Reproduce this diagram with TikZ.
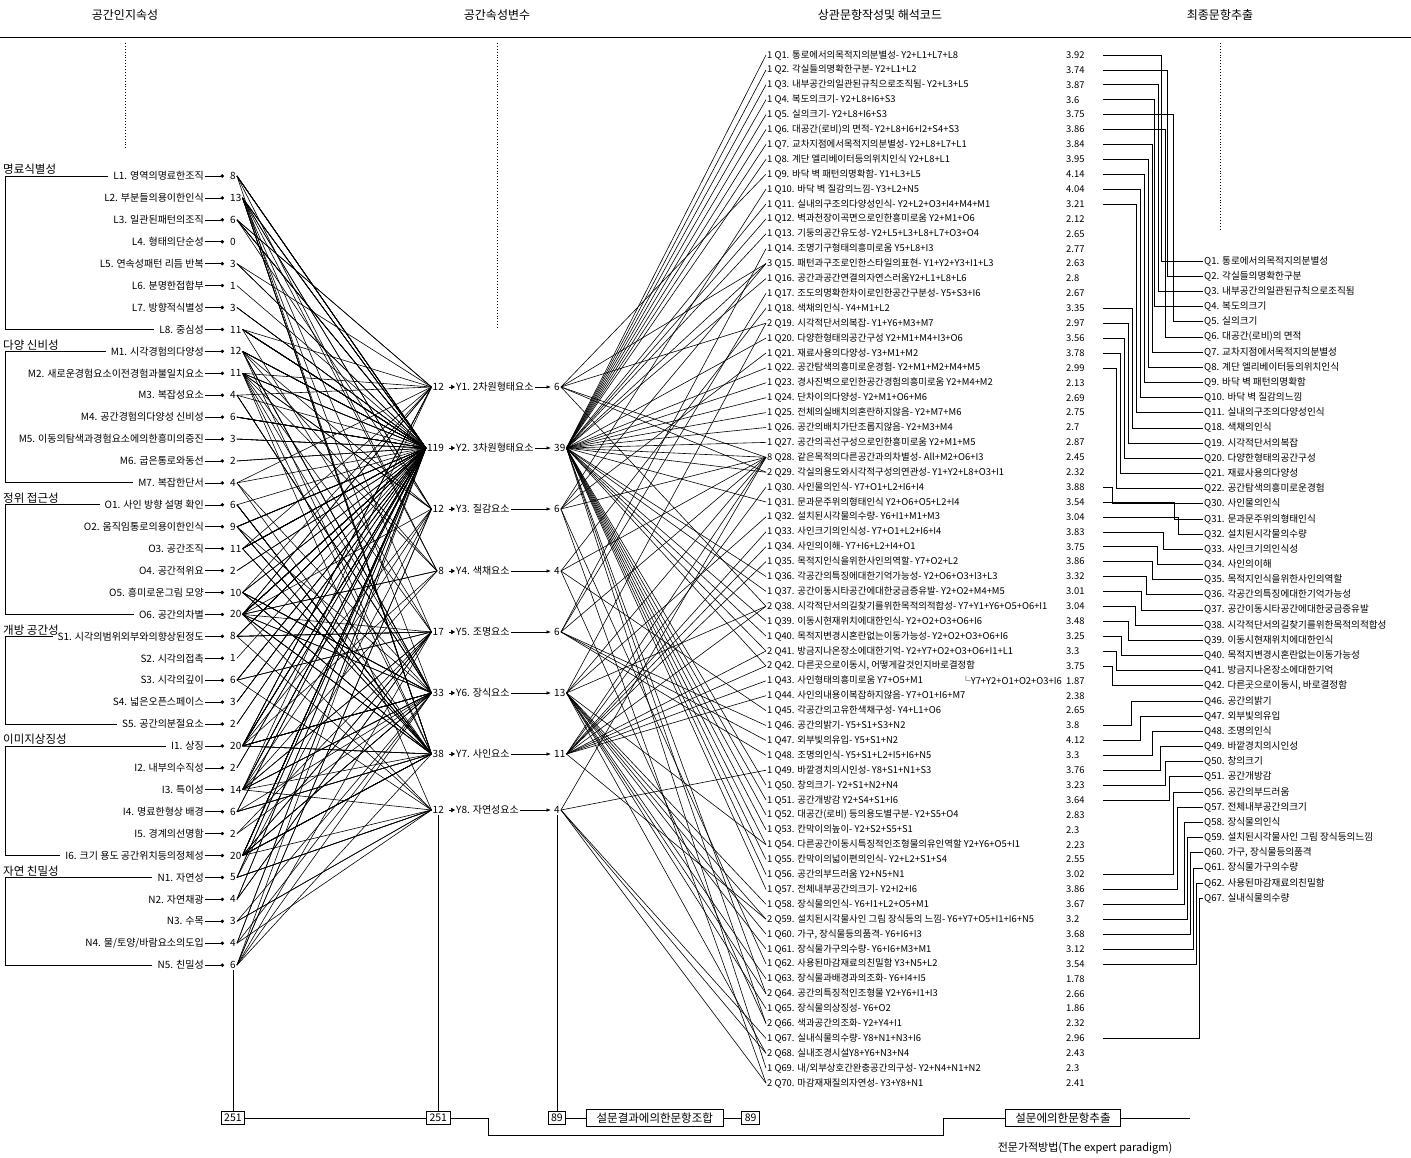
\documentclass[tikz,border=0pt]{standalone}
\usepackage{fontspec}
\setmainfont{Noto Sans CJK KR}
\usetikzlibrary{positioning,arrows.meta,calc}

\begin{document}
\begin{tikzpicture}[x=1pt,y=-1pt]
\tikzset{hd/.style={font=\fontsize{12}{14}\selectfont},
  grp/.style={font=\fontsize{11.5}{13}\selectfont,anchor=south west,inner sep=1pt},
  attr/.style={font=\fontsize{10}{11}\selectfont,anchor=east,inner sep=1pt},
  cnt/.style={font=\fontsize{10}{11}\selectfont,inner sep=1pt},
  qrow/.style={font=\fontsize{9.4}{10}\selectfont,anchor=west,inner sep=1pt},
  val/.style={font=\fontsize{9.4}{10}\selectfont,anchor=west,inner sep=0pt,text width=34pt},
  fin/.style={font=\fontsize{9.6}{10}\selectfont,anchor=west,inner sep=1pt},
  link/.style={line width=0.6pt},
  bx/.style={draw,line width=0.8pt,inner sep=3pt,font=\fontsize{10.5}{12}\selectfont}}
\useasboundingbox (0,0) rectangle (1411,1158);

%% headers
\node[hd] (h1) at (125,15) {공간인지속성};
\node[hd] (h2) at (497,15) {공간속성변수};
\node[hd] (h3) at (880,15) {상관문항작성및 해석코드};
\node[hd] (h4) at (1220,15) {최종문항추출};
\draw[line width=0.8pt] (0,37) -- (1411,37);
\draw[dotted,line width=0.9pt] (125,43) -- (125,150);
\draw[dotted,line width=0.9pt] (497,43) -- (497,330);
\draw[dotted,line width=0.9pt] (1220,43) -- (1220,230);

%% left: attributes
\foreach \c/\t/\n [count=\i from 0] in {L1/{L1. 영역의명료한조직}/8, L2/{L2. 부분들의용이한인식}/13,
  L3/{L3. 일관된패턴의조직}/6, L4/{L4. 형태의단순성}/0, L5/{L5. 연속성패턴 리듬 반복}/3,
  L6/{L6. 분명한접합부}/1, L7/{L7. 방향적식별성}/3, L8/{L8. 중심성}/11,
  M1/{M1. 시각경험의다양성}/12, M2/{M2. 새로운경험요소이전경험과불일치요소}/11,
  M3/{M3. 복잡성요소}/4, M4/{M4. 공간경험의다양성 신비성}/6,
  M5/{M5. 이동의탐색과경험요소에의한흥미의증진}/3, M6/{M6. 굽은통로와동선}/2,
  M7/{M7. 복잡한단서}/4, O1/{O1. 사인 방향 설명 확인}/6, O2/{O2. 움직임통로의용이한인식}/9,
  O3/{O3. 공간조직}/11, O4/{O4. 공간적위요}/2, O5/{O5. 흥미로운그림 모양}/10,
  O6/{O6. 공간의차별}/20, S1/{S1. 시각의범위외부와의향상된정도}/8, S2/{S2. 시각의접촉}/1,
  S3/{S3. 시각의깊이}/6, S4/{S4. 넓은오픈스페이스}/3, S5/{S5. 공간의분절요소}/2,
  I1/{I1. 상징}/20, I2/{I2. 내부의수직성}/2, I3/{I3. 특이성}/14, I4/{I4. 명료한형상 배경}/6,
  I5/{I5. 경계의선명함}/2, I6/{I6. 크기 용도 공간위치등의정체성}/20, N1/{N1. 자연성}/5,
  N2/{N2. 자연채광}/4, N3/{N3. 수목}/3, N4/{N4. 물/토양/바람요소의도입}/4, N5/{N5. 친밀성}/6}
{
  \node[attr] (t\c) at (205,{176+\i*21.92}) {\t};
  \node[cnt,anchor=west] (n\c) at (229,{176+\i*21.92}) {\n};
  \draw[link,-{Circle[length=3.4pt]},shorten >=5pt] (t\c.east) -- (n\c.west);
}
\foreach \g/\a/\b in {명료식별성/L1/L8, {다양 신비성}/M1/M7, {정위 접근성}/O1/O6,
  {개방 공간성}/S1/S5, 이미지상징성/I1/I6, {자연 친밀성}/N1/N5}
{
  \node[grp] (g\a) at (t\a.west -| 2,0) {\g};
  \draw[line width=0.8pt] ([xshift=-4pt]t\a.west) -- (t\a.west -| 5,0) -- (t\b.west -| 5,0) -- ([xshift=-4pt]t\b.west);
}

%% middle: variables
\foreach \i/\t/\l/\r [count=\j from 0] in {1/{Y1. 2차원형태요소}/12/6, 2/{Y2. 3차원형태요소}/119/39,
  3/{Y3. 질감요소}/12/6, 4/{Y4. 색채요소}/8/4, 5/{Y5. 조명요소}/17/6, 6/{Y6. 장식요소}/33/13,
  7/{Y7. 사인요소}/38/11, 8/{Y8. 자연성요소}/12/4}
{
  \pgfmathsetmacro\yy{{387,448,509,571,632,693,754,810}[\j]}
  \node[cnt,anchor=east] (yl\i) at (445,\yy) {\l};
  \node[cnt,anchor=west] (y\i) at (455,\yy) {\t};
  \node[cnt,anchor=west] (yr\i) at (553,\yy) {\r};
  \draw[link,-{Triangle[length=4pt,width=4.5pt]},shorten <=4pt] (yl\i.east) -- (y\i.west);
  \draw[link,-{Latex[length=4.5pt]},shorten >=2pt] (y\i.east) -- (yr\i.west);
}

%% right: items and scores
\foreach \k/\t/\v in {1/{1 Q1. 통로에서의목적지의분별성- Y2+L1+L7+L8}/3.92,
  2/{1 Q2. 각실들의명확한구분- Y2+L1+L2}/3.74,
  3/{1 Q3. 내부공간의일관된규칙으로조직됨- Y2+L3+L5}/3.87,
  4/{1 Q4. 복도의크기- Y2+L8+I6+S3}/3.6,
  5/{1 Q5. 실의크기- Y2+L8+I6+S3}/3.75,
  6/{1 Q6. 대공간(로비)의 면적- Y2+L8+I6+I2+S4+S3}/3.86,
  7/{1 Q7. 교차지점에서목적지의분별성- Y2+L8+L7+L1}/3.84,
  8/{1 Q8. 계단 엘리베이터등의위치인식 Y2+L8+L1}/3.95,
  9/{1 Q9. 바닥 벽 패턴의명확함- Y1+L3+L5}/4.14,
  10/{1 Q10. 바닥 벽 질감의느낌- Y3+L2+N5}/4.04,
  11/{1 Q11. 실내의구조의다양성인식- Y2+L2+O3+I4+M4+M1}/3.21,
  12/{1 Q12. 벽과천장이곡면으로인한흥미로움 Y2+M1+O6}/2.12,
  13/{1 Q13. 기둥의공간유도성- Y2+L5+L3+L8+L7+O3+O4}/2.65,
  14/{1 Q14. 조명기구형태의흥미로움 Y5+L8+I3}/2.77,
  15/{3 Q15. 패턴과구조로인한스타일의표현- Y1+Y2+Y3+I1+L3}/2.63,
  16/{1 Q16. 공간과공간연결의자연스러움Y2+L1+L8+L6}/2.8,
  17/{1 Q17. 조도의명확한차이로인한공간구분성- Y5+S3+I6}/2.67,
  18/{1 Q18. 색채의인식- Y4+M1+L2}/3.35,
  19/{2 Q19. 시각적단서의복잡- Y1+Y6+M3+M7}/2.97,
  20/{1 Q20. 다양한형태의공간구성 Y2+M1+M4+I3+O6}/3.56,
  21/{1 Q21. 재료사용의다양성- Y3+M1+M2}/3.78,
  22/{1 Q22. 공간탐색의흥미로운경험- Y2+M1+M2+M4+M5}/2.99,
  23/{1 Q23. 경사진벽으로인한공간경험의흥미로움 Y2+M4+M2}/2.13,
  24/{1 Q24. 단차이의다양성- Y2+M1+O6+M6}/2.69,
  25/{1 Q25. 전체의실배치의혼란하지않음- Y2+M7+M6}/2.75,
  26/{1 Q26. 공간의배치가단조롭지않음- Y2+M3+M4}/2.7,
  27/{1 Q27. 공간의곡선구성으로인한흥미로움 Y2+M1+M5}/2.87,
  28/{8 Q28. 같은목적의다른공간과의차별성- All+M2+O6+I3}/2.45,
  29/{2 Q29. 각실의용도와시각적구성의연관성- Y1+Y2+L8+O3+I1}/2.32,
  30/{1 Q30. 사인물의인식- Y7+O1+L2+I6+I4}/3.88,
  31/{1 Q31. 문과문주위의형태인식 Y2+O6+O5+L2+I4}/3.54,
  32/{1 Q32. 설치된시각물의수량- Y6+I1+M1+M3}/3.04,
  33/{1 Q33. 사인크기의인식성- Y7+O1+L2+I6+I4}/3.83,
  34/{1 Q34. 사인의이해- Y7+I6+L2+I4+O1}/3.75,
  35/{1 Q35. 목적지인식을위한사인의역할- Y7+O2+L2}/3.86,
  36/{1 Q36. 각공간의특징에대한기억가능성- Y2+O6+O3+I3+L3}/3.32,
  37/{1 Q37. 공간이동시타공간에대한궁금증유발- Y2+O2+M4+M5}/3.01,
  38/{2 Q38. 시각적단서의길찾기를위한목적의적합성- Y7+Y1+Y6+O5+O6+I1}/3.04,
  39/{1 Q39. 이동시현재위치에대한인식- Y2+O2+O3+O6+I6}/3.48,
  40/{1 Q40. 목적지변경시혼란없는이동가능성- Y2+O2+O3+O6+I6}/3.25,
  41/{2 Q41. 방금지나온장소에대한기억- Y2+Y7+O2+O3+O6+I1+L1}/3.3,
  42/{2 Q42. 다른곳으로이동시, 어떻게갈것인지바로결정함}/3.75,
  43/{1 Q43. 사인형태의흥미로움 Y7+O5+M1}/1.87,
  44/{1 Q44. 사인의내용이복잡하지않음- Y7+O1+I6+M7}/2.38,
  45/{1 Q45. 각공간의고유한색채구성- Y4+L1+O6}/2.65,
  46/{1 Q46. 공간의밝기- Y5+S1+S3+N2}/3.8,
  47/{1 Q47. 외부빛의유입- Y5+S1+N2}/4.12,
  48/{1 Q48. 조명의인식- Y5+S1+L2+I5+I6+N5}/3.3,
  49/{1 Q49. 바깥경치의시인성- Y8+S1+N1+S3}/3.76,
  50/{1 Q50. 창의크기- Y2+S1+N2+N4}/3.23,
  51/{1 Q51. 공간개방감 Y2+S4+S1+I6}/3.64,
  52/{1 Q52. 대공간(로비) 등의용도별구분- Y2+S5+O4}/2.83,
  53/{1 Q53. 칸막이의높이- Y2+S2+S5+S1}/2.3,
  54/{1 Q54. 다른공간이동시특징적인조형물의유인역할 Y2+Y6+O5+I1}/2.23,
  55/{1 Q55. 칸막이의넓이편의인식- Y2+L2+S1+S4}/2.55,
  56/{1 Q56. 공간의부드러움 Y2+N5+N1}/3.02,
  57/{1 Q57. 전체내부공간의크기- Y2+I2+I6}/3.86,
  58/{1 Q58. 장식물의인식- Y6+I1+L2+O5+M1}/3.67,
  59/{2 Q59. 설치된시각물사인 그림 장식등의 느낌- Y6+Y7+O5+I1+I6+N5}/3.2,
  60/{1 Q60. 가구, 장식물등의품격- Y6+I6+I3}/3.68,
  61/{1 Q61. 장식물가구의수량- Y6+I6+M3+M1}/3.12,
  62/{1 Q62. 사용된마감재료의친밀함 Y3+N5+L2}/3.54,
  63/{1 Q63. 장식물과배경과의조화- Y6+I4+I5}/1.78,
  64/{2 Q64. 공간의특징적인조형물 Y2+Y6+I1+I3}/2.66,
  65/{1 Q65. 장식물의상징성- Y6+O2}/1.86,
  66/{2 Q66. 색과공간의조화- Y2+Y4+I1}/2.32,
  67/{1 Q67. 실내식물의수량- Y8+N1+N3+I6}/2.96,
  68/{2 Q68. 실내조경시설Y8+Y6+N3+N4}/2.43,
  69/{1 Q69. 내/외부상호간완충공간의구성- Y2+N4+N1+N2}/2.3,
  70/{2 Q70. 마감재재질의자연성- Y3+Y8+N1}/2.41}
{
  \node[qrow] (q\k) at (766,{55+(\k-1)*14.9}) {\t};
  \node[val] (v\k) at (1066,{55+(\k-1)*14.9}) {\v};
}
\node[qrow,anchor=east] (q42b) at (1063,{55+42*14.9}) {└Y7+Y2+O1+O2+O3+I6};

%% links: attribute -> variable -> item
\foreach \k/\ys/\as in {1/2/{L1,L7,L8}, 2/2/{L1,L2}, 3/2/{L3,L5}, 4/2/{L8,I6,S3}, 5/2/{L8,I6,S3},
  6/2/{L8,I6,I2,S4,S3}, 7/2/{L8,L7,L1}, 8/2/{L8,L1}, 9/1/{L3,L5}, 10/3/{L2,N5},
  11/2/{L2,O3,I4,M4,M1}, 12/2/{M1,O6}, 13/2/{L5,L3,L8,L7,O3,O4}, 14/5/{L8,I3},
  15/{1,2,3}/{I1,L3}, 16/2/{L1,L8,L6}, 17/5/{S3,I6}, 18/4/{M1,L2}, 19/{1,6}/{M3,M7},
  20/2/{M1,M4,I3,O6}, 21/3/{M1,M2}, 22/2/{M1,M2,M4,M5}, 23/2/{M4,M2}, 24/2/{M1,O6,M6},
  25/2/{M7,M6}, 26/2/{M3,M4}, 27/2/{M1,M5}, 28/{1,2,3,4,5,6,7,8}/{M2,O6,I3},
  29/{1,2}/{L8,O3,I1}, 30/7/{O1,L2,I6,I4}, 31/2/{O6,O5,L2,I4}, 32/6/{I1,M1,M3},
  33/7/{O1,L2,I6,I4}, 34/7/{I6,L2,I4,O1}, 35/7/{O2,L2}, 36/2/{O6,O3,I3,L3},
  37/2/{O2,M4,M5}, 38/{7,1,6}/{O5,O6,I1}, 39/2/{O2,O3,O6,I6}, 40/2/{O2,O3,O6,I6},
  41/{2,7}/{O2,O3,O6,I1,L1}, 42/{7,2}/{O1,O2,O3,I6}, 43/7/{O5,M1}, 44/7/{O1,I6,M7},
  45/4/{L1,O6}, 46/5/{S1,S3,N2}, 47/5/{S1,N2}, 48/5/{S1,L2,I5,I6,N5}, 49/8/{S1,N1,S3},
  50/2/{S1,N2,N4}, 51/2/{S4,S1,I6}, 52/2/{S5,O4}, 53/2/{S2,S5,S1}, 54/{2,6}/{O5,I1},
  55/2/{L2,S1,S4}, 56/2/{N5,N1}, 57/2/{I2,I6}, 58/6/{I1,L2,O5,M1}, 59/{6,7}/{O5,I1,I6,N5},
  60/6/{I6,I3}, 61/6/{I6,M3,M1}, 62/3/{N5,L2}, 63/6/{I4,I5}, 64/{2,6}/{I1,I3}, 65/6/{O2},
  66/{2,4}/{I1}, 67/8/{N1,N3,I6}, 68/{8,6}/{N3,N4}, 69/2/{N4,N1,N2}, 70/{3,8}/{N1}}
{
  \foreach \y in \ys {
    \draw[link] (yr\y.east) -- (q\k.west);
    \foreach \a in \as {\draw[link] (n\a.east) -- (yl\y.west);}
  }
}

%% final items
\foreach \k/\t/\xx [count=\i from 0] in {1/{Q1. 통로에서의목적지의분별성}/1161,
  2/{Q2. 각실들의명확한구분}/1167, 3/{Q3. 내부공간의일관된규칙으로조직됨}/1158,
  4/{Q4. 복도의크기}/1154, 5/{Q5. 실의크기}/1173, 6/{Q6. 대공간(로비)의 면적}/1165,
  7/{Q7. 교차지점에서목적지의분별성}/1152, 8/{Q8. 계단 엘리베이터등의위치인식}/1148,
  9/{Q9. 바닥 벽 패턴의명확함}/1144, 10/{Q10. 바닥 벽 질감의느낌}/1140,
  11/{Q11. 실내의구조의다양성인식}/1136, 18/{Q18. 색채의인식}/1132,
  19/{Q19. 시각적단서의복잡}/1128, 20/{Q20. 다양한형태의공간구성}/1124,
  21/{Q21. 재료사용의다양성}/1120, 22/{Q22. 공간탐색의흥미로운경험}/1116,
  30/{Q30. 사인물의인식}/1112, 31/{Q31. 문과문주위의형태인식}/1174,
  32/{Q32. 설치된시각물의수량}/1178, 33/{Q33. 사인크기의인식성}/1163,
  34/{Q34. 사인의이해}/1157, 35/{Q35. 목적지인식을위한사인의역할}/1152,
  36/{Q36. 각공간의특징에대한기억가능성}/1146, 37/{Q37. 공간이동시타공간에대한궁금증유발}/1141,
  38/{Q38. 시각적단서의길찾기를위한목적의적합성}/1135, 39/{Q39. 이동시현재위치에대한인식}/1128,
  40/{Q40. 목적지변경시혼란없는이동가능성}/1121, 41/{Q41. 방금지나온장소에대한기억}/1116,
  42/{Q42. 다른곳으로이동시, 바로결정함}/1112, 46/{Q46. 공간의밝기}/1131,
  47/{Q47. 외부빛의유입}/1140, 48/{Q48. 조명의인식}/1152, 49/{Q49. 바깥경치의시인성}/1160,
  50/{Q50. 창의크기}/1165, 51/{Q51. 공간개방감}/1169, 56/{Q56. 공간의부드러움}/1173,
  57/{Q57. 전체내부공간의크기}/1177, 58/{Q58. 장식물의인식}/1184,
  59/{Q59. 설치된시각물사인 그림 장식등의느낌}/1187, 60/{Q60. 가구, 장식물등의품격}/1190,
  61/{Q61. 장식물가구의수량}/1193, 62/{Q62. 사용된마감재료의친밀함}/1196,
  67/{Q67. 실내식물의수량}/1199}
{
  \node[fin] (f\k) at (1203,{261+\i*15.17}) {\t};
  \draw[link,shorten <=3pt] (v\k.east) -- (v\k.east -| \xx,0) |- (f\k.west);
}

%% bottom summary
\node[bx] (b1) at (nN5 |- 0,1118) {251};
\node[bx] (b2) at (yl8 |- 0,1118) {251};
\node[bx] (b3) at (yr8 |- 0,1118) {89};
\node[bx,right=20pt of b3,inner xsep=10pt,font=\fontsize{11.5}{13}\selectfont] (b4) {설문결과에의한문항조합};
\node[bx,right=18pt of b4] (b5) {89};
\node[bx,inner xsep=10pt,font=\fontsize{11.5}{13}\selectfont] (b6) at (1063,1118) {설문에의한문항추출};
\node[font=\fontsize{11}{13}\selectfont] (ep) at (1085,1148) {전문가적방법(The expert paradigm)};
\draw[line width=0.8pt] (nN5) -- (b1);
\draw[line width=0.8pt] (yl8) -- (b2);
\draw[line width=0.8pt] (yr8) -- (b3);
\draw[line width=0.8pt] (b1) -- (b2);
\draw[line width=0.8pt] (b3) -- (b4);
\draw[line width=0.8pt] (b4) -- (b5);
\draw[line width=0.8pt] (b2.east) -- (488,1118) -- (488,1135) -- (943,1135) -- (943,1118) -- (b6.west);
\draw[line width=0.8pt] (b6.east) -- (1190,1118);
\end{tikzpicture}
\end{document}
